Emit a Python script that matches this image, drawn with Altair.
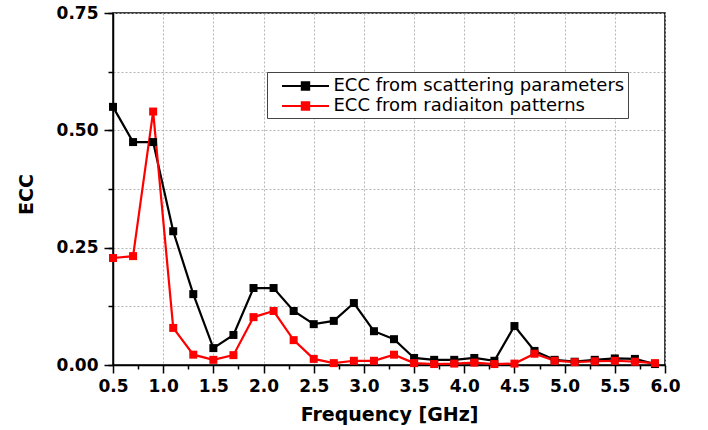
import altair as alt
import pandas as pd

freq = [0.5, 0.7, 0.9, 1.1, 1.3, 1.5, 1.7, 1.9, 2.1, 2.3, 2.5, 2.7, 2.9, 3.1,
        3.3, 3.5, 3.7, 3.9, 4.1, 4.3, 4.5, 4.7, 4.9, 5.1, 5.3, 5.5, 5.7, 5.9]
ecc_scattering = [0.550, 0.475, 0.475, 0.285, 0.151, 0.036, 0.064, 0.164, 0.164, 0.115,
                  0.087, 0.094, 0.132, 0.072, 0.055, 0.015, 0.011, 0.011, 0.015, 0.009,
                  0.083, 0.030, 0.011, 0.007, 0.011, 0.014, 0.013, 0.002]
ecc_radiation = [0.228, 0.232, 0.540, 0.079, 0.022, 0.011, 0.021, 0.102, 0.115, 0.053,
                 0.013, 0.004, 0.009, 0.009, 0.022, 0.004, 0.002, 0.003, 0.005, 0.002,
                 0.003, 0.024, 0.009, 0.006, 0.008, 0.009, 0.007, 0.004]
series = ["ECC from scattering parameters", "ECC from radiaiton patterns"]
colors = ["#000000", "#ff0000"]

x_major = [0.5, 1.0, 1.5, 2.0, 2.5, 3.0, 3.5, 4.0, 4.5, 5.0, 5.5, 6.0]
x_minor = [0.75, 1.25, 1.75, 2.25, 2.75, 3.25, 3.75, 4.25, 4.75, 5.25, 5.75]
y_major = [0.0, 0.25, 0.5, 0.75]
y_grid = [0.0, 0.125, 0.25, 0.375, 0.5, 0.625, 0.75]

n = len(freq)
df = pd.DataFrame({
    "freq": freq + freq,
    "ecc": ecc_scattering + ecc_radiation,
    "series": [series[0]] * n + [series[1]] * n,
})

FONT = "DejaVu Sans"
x_scale = alt.Scale(domain=[0.5, 6.0], nice=False, zero=False)
y_scale = alt.Scale(domain=[0.0, 0.75], nice=False)

legend_path = "M-2.35,0H2.35M-0.37,-0.37H0.37V0.37H-0.37Z"

lines = alt.Chart(df).mark_line(
    strokeWidth=2.2,
    point=alt.OverlayMarkDef(shape="square", size=64, filled=True, opacity=1),
).encode(
    x=alt.X("freq:Q", scale=x_scale, axis=alt.Axis(
        values=x_major, format=".1f", title="Frequency [GHz]", orient="bottom",
        grid=True, tickSize=8, labelPadding=5, labelFlush=False,
        labelFont=FONT, labelFontWeight="bold", labelFontSize=17,
        titleFont=FONT, titleFontWeight="bold", titleFontSize=19,
        titleY=55, titleBaseline="alphabetic",
    )),
    y=alt.Y("ecc:Q", scale=y_scale, axis=alt.Axis(
        values=y_major, format=".2f", title="ECC", orient="left",
        grid=False, tickSize=9, labelPadding=6, labelFlush=False,
        labelFont=FONT, labelFontWeight="bold", labelFontSize=17,
        titleFont=FONT, titleFontWeight="bold", titleFontSize=19,
        titleX=-87, titleY=181, titleBaseline="middle", titleAngle=270,
    )),
    color=alt.Color("series:N", scale=alt.Scale(domain=series, range=colors), legend=alt.Legend(
        title=None, orient="none", legendX=154, legendY=59,
        symbolType=legend_path, symbolSize=400, symbolStrokeWidth=2,
        symbolOffset=24.5, labelOffset=17, labelLimit=500,
        padding=3, rowPadding=0,
        strokeColor="#444444", fillColor="white",
        labelFont=FONT, labelFontSize=18, labelColor="black",
    )),
)

minor = alt.Chart(df).mark_line(opacity=0).encode(
    x=alt.X("freq:Q", scale=x_scale, axis=alt.Axis(
        values=x_minor, labels=False, title=None, domain=False,
        tickSize=4, grid=False, orient="bottom")),
    y=alt.Y("ecc:Q", scale=y_scale, axis=alt.Axis(
        values=y_grid, labels=False, title=None, domain=False,
        tickSize=5, grid=True, orient="left")),
    detail="series:N",
)

chart = alt.layer(minor, lines).resolve_axis(
    x="independent", y="independent"
).properties(
    width=552, height=352,
    autosize="none",
    padding={"left": 113, "top": 13, "right": 43, "bottom": 65},
    background="white",
).configure_view(
    stroke="black", strokeWidth=1.5
).configure_axis(
    domainColor="black", domainWidth=1.5,
    tickColor="black", tickWidth=1.5,
    labelColor="black", titleColor="black",
    gridColor="#b5b5b5", gridDash=[2, 2], gridWidth=1,
)

chart.save("out.html", embed_options={"renderer": "svg", "actions": False})
